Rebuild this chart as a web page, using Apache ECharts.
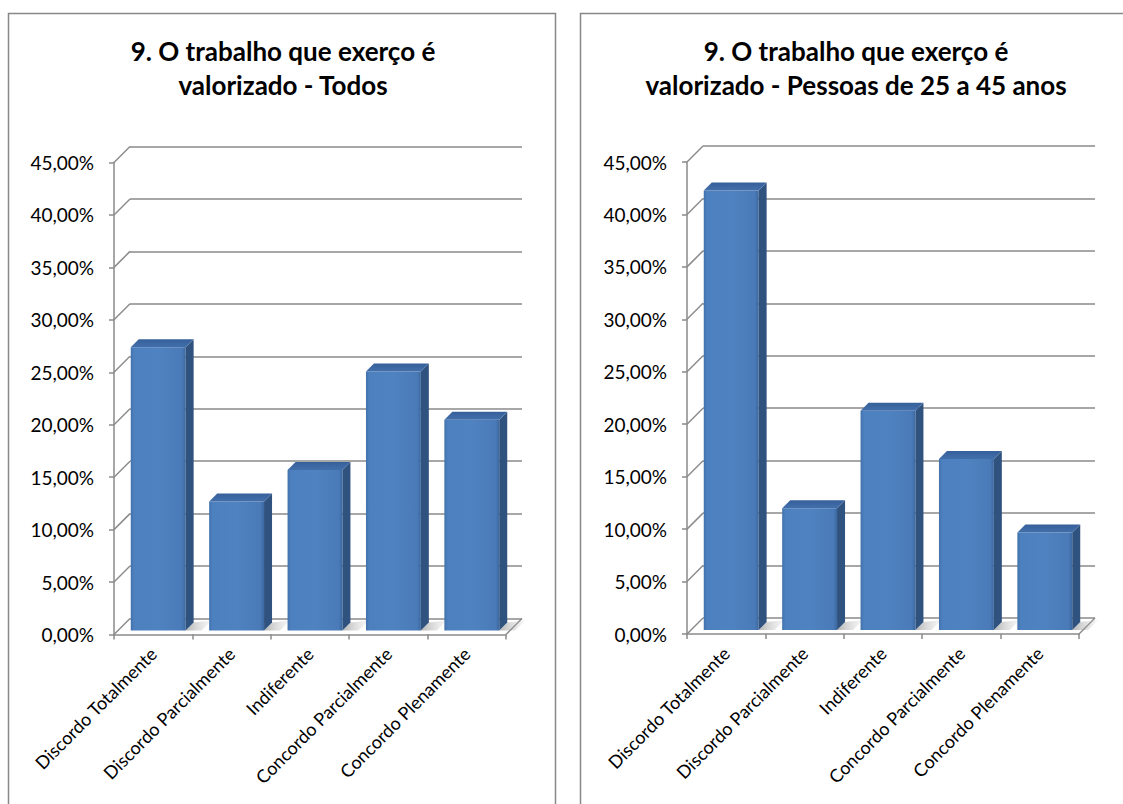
<!DOCTYPE html>
<html>
<head>
<meta charset="utf-8">
<script src="https://cdn.jsdelivr.net/npm/echarts@6/dist/echarts.min.js"></script>
<style>
  html, body { margin: 0; padding: 0; background: #ffffff; }
  #chart { width: 1123px; height: 804px; }
</style>
</head>
<body>
<div id="chart"></div>
<script>
// Answer categories shared by both panels
const categories = [
  'Discordo Totalmente',
  'Discordo Parcialmente',
  'Indiferente',
  'Concordo Parcialmente',
  'Concordo Plenamente'
];

// Share of answers (%) — all respondents
const valuesTodos = [27.0, 12.3, 15.3, 24.7, 20.1];
// Share of answers (%) — people aged 25 to 45
const values25a45 = [41.9, 11.6, 20.9, 16.3, 9.3];

// Value axis ticks and their labels
const yTickValues = [0, 5, 10, 15, 20, 25, 30, 35, 40, 45];
const yTickLabels = ['0,00%', '5,00%', '10,00%', '15,00%', '20,00%', '25,00%', '30,00%', '35,00%', '40,00%', '45,00%'];

const titleTodos = '9. O trabalho que exerço é\nvalorizado - Todos';
const title25a45 = '9. O trabalho que exerço é\nvalorizado - Pessoas de 25 a 45 anos';

// ---- drawing setup ----
const FONT = 'Lato, "Open Sans", sans-serif';
const LINE = '#8a8a8a';
const WALL_DX = 16, WALL_DY = -16;      // depth of the back wall
const BAR_DX = 5, BAR_DY = -4;          // bar front face inside the floor
const BAR_DEPTH = 8;                    // bar thickness in depth

const panels = [
  { title: titleTodos, values: valuesTodos, left: 114, top: 162.5, box: 8.5, boxW: 547, center: 283 },
  { title: title25a45, values: values25a45, left: 687, top: 162, box: 580.5, boxW: 560, center: 856 }
];
const GRID_W = 392, GRID_H = 472;

function labelFor(v) {
  const i = yTickValues.indexOf(v);
  return i >= 0 ? yTickLabels[i] : '';
}

function renderBar(params, api) {
  const i = api.value(0), v = api.value(1);
  const base = api.coord([i, 0]);
  const top = api.coord([i, v]);
  const band = api.size([1, 0])[0];
  const w = band * 0.7;
  const cx = base[0] + BAR_DX;
  const yb = base[1] + BAR_DY, yt = top[1] + BAR_DY;
  const xl = cx - w / 2, xr = cx + w / 2;
  const d = BAR_DEPTH;
  return {
    type: 'group',
    children: [
      { // soft shadow on the floor
        type: 'polygon',
        shape: { points: [[xr, yb], [xr + 16, yb], [xr + 26, yb - 10], [xr + d, yb - d]] },
        style: { fill: new echarts.graphic.LinearGradient(0, 0, 1, 0, [
          { offset: 0, color: 'rgba(120,120,120,0.55)' },
          { offset: 1, color: 'rgba(200,200,200,0.15)' }
        ]) }
      },
      {
        type: 'rect',
        shape: { x: xl, y: yt, width: w, height: yb - yt },
        style: { fill: new echarts.graphic.LinearGradient(0, 0, 1, 0, [
          { offset: 0, color: '#4272ad' },
          { offset: 0.06, color: '#4d80be' },
          { offset: 0.5, color: '#4f82c0' },
          { offset: 0.93, color: '#4a7bb8' },
          { offset: 1, color: '#3c68a0' }
        ]) }
      },
      {
        type: 'polygon',
        shape: { points: [[xr, yt], [xr + d, yt - d], [xr + d, yb - d], [xr, yb]] },
        style: { fill: '#30527f' }
      },
      {
        type: 'polygon',
        shape: { points: [[xl, yt], [xl + d, yt - d], [xr + d, yt - d], [xr, yt]] },
        style: { fill: new echarts.graphic.LinearGradient(0, 0, 0, 1, [
          { offset: 0, color: '#36609a' },
          { offset: 1, color: '#426fab' }
        ]) }
      }
    ]
  };
}

// side-wall diagonals from each front tick to the back wall
function renderWallLink(params, api) {
  const p = api.coord([0, api.value(1)]);
  const band = api.size([1, 0])[0];
  const x0 = p[0] - band / 2;
  return {
    type: 'line',
    shape: { x1: x0, y1: p[1], x2: x0 + WALL_DX, y2: p[1] + WALL_DY },
    style: { stroke: LINE, lineWidth: 1.5 }
  };
}

// right edge of the floor
function renderFloorEdge(params, api) {
  const p = api.coord([api.value(0), 0]);
  const band = api.size([1, 0])[0];
  const x0 = p[0] + band / 2;
  return {
    type: 'line',
    shape: { x1: x0, y1: p[1], x2: x0 + WALL_DX, y2: p[1] + WALL_DY },
    style: { stroke: LINE, lineWidth: 1.5 }
  };
}

const grid = [], xAxis = [], yAxis = [], series = [], graphic = [];

panels.forEach((pn, k) => {
  const front = k * 2, back = k * 2 + 1;
  grid.push({ left: pn.left, top: pn.top, width: GRID_W, height: GRID_H });
  grid.push({ left: pn.left + WALL_DX, top: pn.top + WALL_DY, width: GRID_W, height: GRID_H });

  xAxis.push({
    type: 'category', gridIndex: front, data: categories,
    axisLine: { lineStyle: { color: LINE, width: 1.5 } },
    axisTick: { show: true, interval: 0, length: 5, lineStyle: { color: LINE, width: 1.5 } },
    axisLabel: { interval: 0, rotate: 45, margin: 16, color: '#000', fontSize: 18, fontFamily: FONT }
  });
  xAxis.push({
    type: 'category', gridIndex: back, data: categories, show: false
  });

  yAxis.push({
    type: 'value', gridIndex: front, min: 0, max: 45, interval: 5,
    axisLine: { show: true, lineStyle: { color: LINE, width: 1.5 } },
    axisTick: { show: true, length: 5, lineStyle: { color: LINE, width: 1.5 } },
    splitLine: { show: false },
    axisLabel: { margin: 20, color: '#000', fontSize: 19, fontFamily: FONT, formatter: labelFor }
  });
  yAxis.push({
    type: 'value', gridIndex: back, min: 0, max: 45, interval: 5,
    axisLine: { show: false }, axisTick: { show: false }, axisLabel: { show: false },
    splitLine: { show: true, lineStyle: { color: LINE, width: 1.5 } }
  });

  // back wall needs a series to be drawn
  series.push({
    type: 'custom', xAxisIndex: back, yAxisIndex: back, silent: true,
    data: [], renderItem: () => null
  });
  series.push({
    type: 'custom', xAxisIndex: front, yAxisIndex: front, silent: true, z: 1,
    data: yTickValues.map(v => [0, v]), renderItem: renderWallLink
  });
  series.push({
    type: 'custom', xAxisIndex: front, yAxisIndex: front, silent: true, z: 1,
    data: [[categories.length - 1, 0]], renderItem: renderFloorEdge
  });
  series.push({
    type: 'custom', xAxisIndex: front, yAxisIndex: front, silent: true, z: 3,
    data: pn.values.map((v, i) => [i, v]), renderItem: renderBar
  });

  graphic.push({
    type: 'rect', silent: true,
    shape: { x: pn.box, y: 13.5, width: pn.boxW, height: 900 },
    style: { fill: 'none', stroke: '#888888', lineWidth: 1.5 }
  });
  graphic.push({
    type: 'text', silent: true, x: pn.center, y: 34,
    style: {
      text: pn.title, font: 'bold 26px ' + FONT, fill: '#000',
      align: 'center', verticalAlign: 'top', lineHeight: 34
    }
  });
});

const chart = echarts.init(document.getElementById('chart'), null, { renderer: 'svg' });
chart.setOption({
  backgroundColor: '#ffffff',
  animation: false,
  grid, xAxis, yAxis, series, graphic
});
</script>
</body>
</html>
